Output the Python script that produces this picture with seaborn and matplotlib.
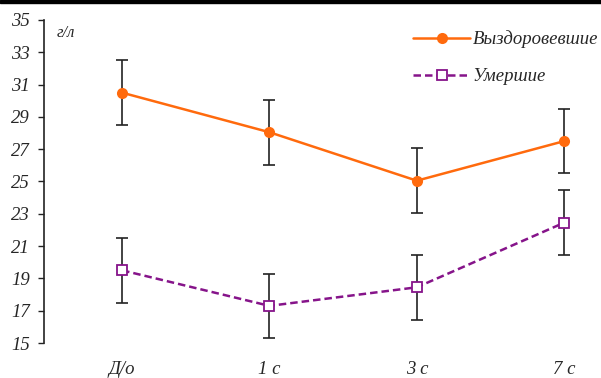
import numpy as np
import pandas as pd
import seaborn as sns
import matplotlib.pyplot as plt
from matplotlib.patches import Rectangle

# данные
periods = ["Д/о", "1 с", "3 с", "7 с"]
recovered = [30.5, 28.05, 25.05, 27.5]
recovered_err = [2.0, 2.0, 2.0, 2.0]
died = [19.5, 17.3, 18.45, 22.45]
died_err = [2.0, 2.0, 2.0, 2.0]
groups = ["Выздоровевшие", "Умершие"]

sns.set_style("white")
plt.rcParams['font.family'] = ['Liberation Serif', 'DejaVu Serif']
plt.rcParams['font.style'] = 'italic'

pos = np.arange(len(periods))
df = pd.DataFrame({
    "x": np.concatenate([pos, pos]),
    "val": recovered + died,
    "grp": [groups[0]] * len(periods) + [groups[1]] * len(periods),
})

fig = plt.figure(figsize=(6.01, 3.78), dpi=100)
ax = fig.add_axes([44 / 601, 35 / 378, 1 - 44 / 601, 323 / 378])

# усы погрешностей
ax.errorbar(pos, recovered, yerr=recovered_err, fmt='none', ecolor='#222222',
            elinewidth=1.2, capsize=4, capthick=1.2, zorder=1)
ax.errorbar(pos, died, yerr=died_err, fmt='none', ecolor='#222222',
            elinewidth=1.2, capsize=4, capthick=1.2, zorder=1)

sns.lineplot(data=df, x="x", y="val", hue="grp", style="grp",
             palette={groups[0]: '#FF6A0D', groups[1]: '#86148A'},
             markers={groups[0]: 'o', groups[1]: 's'},
             dashes={groups[0]: '', groups[1]: (3, 1.6)},
             linewidth=1.8, markersize=8, ax=ax, zorder=3)

for ln in ax.lines:
    if ln.get_marker() == 's':
        ln.set_markerfacecolor('white')
        ln.set_markeredgecolor('#86148A')
        ln.set_markeredgewidth(1.3)
        ln.set_markersize(7.5)
    elif ln.get_marker() == 'o':
        ln.set_markeredgewidth(0)

ax.set_xlim(-0.53, 3.25)
ax.set_ylim(15, 35)
ax.set_yticks(range(15, 36, 2))
ax.set_xticks(pos)
ax.set_xticklabels(periods, fontsize=13.5)
ax.tick_params(axis='y', which='major', direction='out', length=4, width=1,
               left=True, pad=6, labelsize=13.5, color='#222222')
ax.tick_params(axis='x', length=0, pad=13)
ax.set_xlabel('')
ax.set_ylabel('')
for s in ['top', 'right', 'bottom']:
    ax.spines[s].set_visible(False)
ax.spines['left'].set_color('#222222')
ax.spines['left'].set_linewidth(1.2)

ax.text(0.023, 0.985, "г/л", transform=ax.transAxes, fontsize=12,
        ha='left', va='top')

leg = ax.legend(loc='upper right', bbox_to_anchor=(1.025, 1.02), frameon=False,
                fontsize=13.5, handlelength=3.0, handletextpad=0.15,
                labelspacing=1.05)
for h in leg.legend_handles:
    if h.get_marker() == 's':
        h.set_markerfacecolor('white')
        h.set_markeredgecolor('#86148A')
        h.set_markeredgewidth(1.3)

# чёрная полоса сверху, как на исходном рисунке
fig.patches.append(Rectangle((0, 1 - 3 / 378), 1, 3 / 378,
                             transform=fig.transFigure, color='black'))

plt.savefig('out.png', dpi=100)
